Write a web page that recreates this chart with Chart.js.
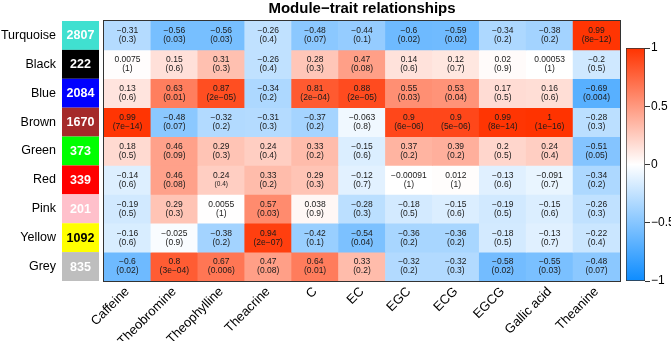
<!DOCTYPE html>
<html>
<head>
<meta charset="utf-8">
<script src="https://cdn.jsdelivr.net/npm/chart.js@4.4.0/dist/chart.umd.min.js"></script>
<style>
  html, body { margin: 0; padding: 0; background: #fff; }
  #wrap { position: relative; width: 671px; height: 341px; }
  #heat { position: absolute; left: 0; top: 0; }
  #scale { position: absolute; left: 600px; top: 0; }
</style>
</head>
<body>
<div id="wrap">
  <canvas id="heat" width="671" height="341"></canvas>
  <canvas id="scale" width="71" height="341"></canvas>
</div>
<script>
// Traits (columns) and modules (rows)
const traits = ["Caffeine", "Theobromine", "Theophylline", "Theacrine", "C", "EC", "EGC", "ECG", "EGCG", "Gallic acid", "Theanine"];
const modules = ["Turquoise", "Black", "Blue", "Brown", "Green", "Red", "Pink", "Yellow", "Grey"];
const moduleSizes = [2807, 222, 2084, 1670, 373, 339, 201, 1092, 835];
const moduleColors = ["#40E0D0", "#000000", "#0000FF", "#A52A2A", "#00FF00", "#FF0000", "#FFC0CB", "#FFFF00", "#BEBEBE"];

// Module-trait correlations, one row per module
const cor = [
  [-0.31, -0.56, -0.56, -0.26, -0.48, -0.44, -0.6, -0.59, -0.34, -0.38, 0.99],
  [0.0075, 0.15, 0.31, -0.26, 0.28, 0.47, 0.14, 0.12, 0.02, 0.00053, -0.2],
  [0.13, 0.63, 0.87, -0.34, 0.81, 0.88, 0.55, 0.53, 0.17, 0.16, -0.69],
  [0.99, -0.48, -0.32, -0.31, -0.37, -0.063, 0.9, 0.9, 0.99, 1, -0.28],
  [0.18, 0.46, 0.29, 0.24, 0.33, -0.15, 0.37, 0.39, 0.2, 0.24, -0.51],
  [-0.14, 0.46, 0.24, 0.33, 0.29, -0.12, -0.00091, 0.012, -0.13, -0.091, -0.34],
  [-0.19, 0.29, 0.0055, 0.57, 0.038, -0.28, -0.18, -0.15, -0.19, -0.15, -0.26],
  [-0.16, -0.025, -0.38, 0.94, -0.42, -0.54, -0.36, -0.36, -0.18, -0.13, -0.22],
  [-0.6, 0.8, 0.67, 0.47, 0.64, 0.33, -0.32, -0.32, -0.58, -0.55, -0.48]
];

// p-values, same layout
const pval = [
  [0.3, 0.03, 0.03, 0.4, 0.07, 0.1, 0.02, 0.02, 0.2, 0.2, 8e-12],
  [1, 0.6, 0.3, 0.4, 0.3, 0.08, 0.6, 0.7, 0.9, 1, 0.5],
  [0.6, 0.01, 2e-5, 0.2, 2e-4, 2e-5, 0.03, 0.04, 0.5, 0.6, 0.004],
  [7e-14, 0.07, 0.2, 0.3, 0.2, 0.8, 6e-6, 5e-6, 8e-14, 1e-16, 0.3],
  [0.5, 0.09, 0.3, 0.4, 0.2, 0.6, 0.2, 0.2, 0.5, 0.4, 0.05],
  [0.6, 0.08, 0.4, 0.2, 0.3, 0.7, 1, 1, 0.6, 0.7, 0.2],
  [0.5, 0.3, 1, 0.03, 0.9, 0.3, 0.5, 0.6, 0.5, 0.6, 0.3],
  [0.6, 0.9, 0.2, 2e-7, 0.1, 0.04, 0.2, 0.2, 0.5, 0.7, 0.4],
  [0.02, 3e-4, 0.006, 0.08, 0.01, 0.2, 0.2, 0.3, 0.02, 0.03, 0.07]
];

// colour scale ticks
const scaleTicks = [-1, -0.5, 0, 0.5, 1];

const FONT = '"Liberation Sans", Arial, Helvetica, sans-serif';
const BLUE_END = [13, 140, 255];
const RED_END = [255, 51, 0];

// blue - white - red, like WGCNA's blueWhiteRed
function corrColor(v) {
  const t = Math.min(1, Math.abs(v));
  const end = v < 0 ? BLUE_END : RED_END;
  const c = end.map(e => Math.round(255 + (e - 255) * t));
  return `rgb(${c[0]},${c[1]},${c[2]})`;
}

const minus = s => s.replace(/-/g, "\u2212");

function fmtP(p) {
  if (p < 0.001) return minus(p.toExponential(0).replace(/e([+-])(\d)$/, "e$10$2"));
  return String(p);
}

// one dataset per module row; each cell is a floating bar [row, row+1]
const datasets = modules.map((m, r) => ({
  label: m,
  data: traits.map(() => [r, r + 1]),
  backgroundColor: cor[r].map(corrColor),
  borderWidth: 0,
  grouped: false,
  barPercentage: 1,
  categoryPercentage: 1
}));

// Draws cell texts, module boxes, frame and title
const heatDecor = {
  id: "heatDecor",
  afterDatasetsDraw(chart) {
    const ctx = chart.ctx;
    const a = chart.chartArea;
    const ys = chart.scales.y;
    ctx.save();
    ctx.textAlign = "center";
    ctx.textBaseline = "middle";

    chart.data.datasets.forEach((ds, r) => {
      chart.getDatasetMeta(r).data.forEach((bar, c) => {
        const yMid = (bar.y + bar.base) / 2;
        ctx.fillStyle = "#1a1a1a";
        ctx.font = `8.5px ${FONT}`;
        ctx.fillText(minus(String(cor[r][c])), bar.x, yMid - 4.5);
        // one p-value is printed smaller in the original
        ctx.font = (r === 5 && c === 2) ? `6.5px ${FONT}` : `8.5px ${FONT}`;
        ctx.fillText("(" + fmtP(pval[r][c]) + ")", bar.x, yMid + 4.5);
      });
    });

    // frame around heatmap
    ctx.strokeStyle = "#333";
    ctx.lineWidth = 1;
    ctx.strokeRect(a.left - 0.5, a.top - 0.5, a.right - a.left + 1, a.bottom - a.top + 1);

    // module colour boxes with sizes
    modules.forEach((m, i) => {
      const top = ys.getPixelForValue(i);
      const bot = ys.getPixelForValue(i + 1);
      ctx.fillStyle = moduleColors[i];
      ctx.fillRect(a.left - 42, top, 37, bot - top);
      ctx.fillStyle = m === "Yellow" ? "#000" : "#fff";
      ctx.font = `bold 12.5px ${FONT}`;
      ctx.fillText(String(moduleSizes[i]), a.left - 23.5, (top + bot) / 2 + 0.5);
    });

    // title
    ctx.fillStyle = "#000";
    ctx.font = `bold 15px ${FONT}`;
    ctx.fillText("Module\u2212trait relationships", (a.left + a.right) / 2, 9);
    ctx.restore();
  }
};

new Chart(document.getElementById("heat"), {
  type: "bar",
  data: { labels: traits, datasets: datasets },
  options: {
    responsive: false,
    animation: false,
    events: [],
    layout: { padding: { left: 0, right: 51, top: 21, bottom: 0 } },
    plugins: { legend: { display: false }, tooltip: { enabled: false } },
    scales: {
      x: {
        type: "category",
        grid: { display: false, drawTicks: false },
        border: { display: false },
        ticks: {
          autoSkip: false,
          minRotation: 45,
          maxRotation: 45,
          padding: 3,
          color: "#000",
          font: { family: FONT, size: 13 }
        },
        afterFit(s) { s.height = 60; s.paddingLeft = 0; s.paddingRight = 0; }
      },
      y: {
        type: "linear",
        min: 0,
        max: modules.length,
        reverse: true,
        grid: { display: false, drawTicks: false },
        border: { display: false },
        afterBuildTicks(s) { s.ticks = modules.map((m, i) => ({ value: i + 0.5 })); },
        ticks: {
          padding: 48,
          color: "#000",
          font: { family: FONT, size: 12.5 },
          callback: (v, i) => modules[i]
        },
        afterFit(s) { s.width = 104; s.paddingTop = 0; s.paddingBottom = 0; }
      }
    }
  },
  plugins: [heatDecor]
});

// Colour key
new Chart(document.getElementById("scale"), {
  type: "bar",
  data: {
    labels: [""],
    datasets: [{
      data: [[scaleTicks[0], scaleTicks[scaleTicks.length - 1]]],
      backgroundColor(context) {
        const { chart } = context;
        const area = chart.chartArea;
        if (!area) return "#fff";
        const g = chart.ctx.createLinearGradient(0, area.bottom, 0, area.top);
        g.addColorStop(0, `rgb(${BLUE_END.join(",")})`);
        g.addColorStop(0.5, "#fff");
        g.addColorStop(1, `rgb(${RED_END.join(",")})`);
        return g;
      },
      borderColor: "#333",
      borderWidth: 1,
      borderSkipped: false,
      barPercentage: 1,
      categoryPercentage: 1
    }]
  },
  options: {
    responsive: false,
    animation: false,
    events: [],
    layout: { padding: { left: 26, right: 0, top: 48, bottom: 60 } },
    plugins: { legend: { display: false }, tooltip: { enabled: false } },
    scales: {
      x: { display: false },
      y: {
        position: "right",
        min: -1,
        max: 1,
        afterBuildTicks(s) { s.ticks = scaleTicks.map(v => ({ value: v })); },
        grid: { drawOnChartArea: false, tickLength: 5, color: "#333" },
        border: { display: false },
        ticks: {
          padding: 1,
          color: "#000",
          font: { family: FONT, size: 12 },
          callback: v => minus(String(v))
        },
        afterFit(s) { s.width = 26; s.paddingTop = 0; s.paddingBottom = 0; }
      }
    }
  }
});
</script>
</body>
</html>
